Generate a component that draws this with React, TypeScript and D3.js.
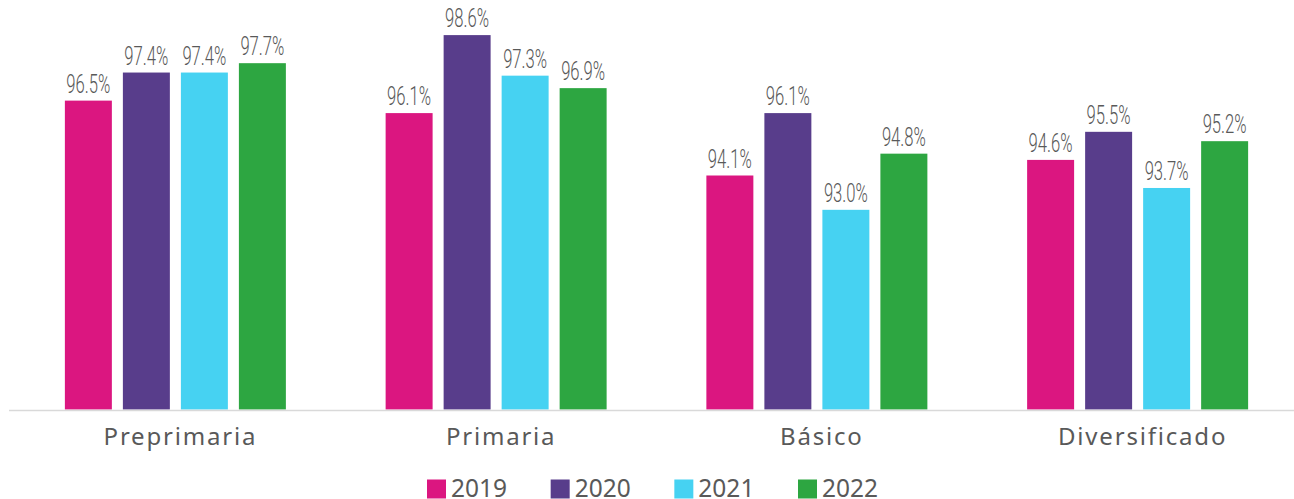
import React from "react";
import * as d3 from "d3";

const categories = ["Preprimaria", "Primaria", "Básico", "Diversificado"];
const years = ["2019", "2020", "2021", "2022"];
const values2019 = [96.5, 96.1, 94.1, 94.6];
const values2020 = [97.4, 98.6, 96.1, 95.5];
const values2021 = [97.4, 97.3, 93.0, 93.7];
const values2022 = [97.7, 96.9, 94.8, 95.2];
const seriesValues = [values2019, values2020, values2021, values2022];
const colors = ["#DB1680", "#583D8B", "#46D2F2", "#2DA641"];

const W = 1294;
const H = 499;
const baseY = 409.5;

export default function App() {
  const x0 = d3.scaleBand<string>().domain(categories).range([15, 1298]).padding(0);
  const x1 = d3
    .scaleBand<string>()
    .domain(years)
    .range([0, 221])
    .paddingInner(0.19)
    .paddingOuter(0);
  const y = d3.scaleLinear().domain([86.6, 98.6]).range([baseY, 35.1]);
  const fmt = (v: number) => v.toFixed(1) + "%";

  const legendX = d3.scalePoint<string>().domain(years).range([427, 798]);

  return (
    <svg
      width={W}
      height={H}
      style={{ position: "absolute", left: 0, top: 0, display: "block", background: "#fff" }}
    >
      {categories.map((cat, ci) => {
        const gx = (x0(cat) as number) + x0.bandwidth() / 2 - 110.5;
        return (
          <g key={cat} transform={`translate(${gx},0)`}>
            {years.map((yr, si) => {
              const v = seriesValues[si][ci];
              const bx = x1(yr) as number;
              const bw = x1.bandwidth();
              return (
                <g key={yr}>
                  <rect
                    x={bx}
                    y={y(v)}
                    width={bw}
                    height={baseY - y(v)}
                    fill={colors[si]}
                  />
                  <text
                    x={bx + bw / 2}
                    y={y(v) - 8}
                    textAnchor="middle"
                    fontFamily="Roboto, 'Liberation Sans Narrow', sans-serif"
                    fontWeight={300}
                    fontSize={25}
                    fill="#595959"
                    textLength={44}
                    lengthAdjust="spacingAndGlyphs"
                  >
                    {fmt(v)}
                  </text>
                </g>
              );
            })}
          </g>
        );
      })}
      <line x1={9} x2={1294} y1={410.5} y2={410.5} stroke="#D9D9D9" strokeWidth={1.5} />
      {categories.map((cat) => (
        <text
          key={cat}
          x={(x0(cat) as number) + x0.bandwidth() / 2 + 5}
          y={445}
          textAnchor="middle"
          fontFamily="'Noto Sans', sans-serif"
          fontSize={24}
          letterSpacing={1.8}
          fill="#595959"
        >
          {cat}
        </text>
      ))}
      {years.map((yr, i) => (
        <g key={yr} transform={`translate(${legendX(yr)},479.5)`}>
          <rect x={0} y={0} width={19} height={19} fill={colors[i]} />
          <text
            x={24}
            y={17}
            fontFamily="'Noto Sans', sans-serif"
            fontSize={24.5}
            fill="#595959"
          >
            {yr}
          </text>
        </g>
      ))}
    </svg>
  );
}
